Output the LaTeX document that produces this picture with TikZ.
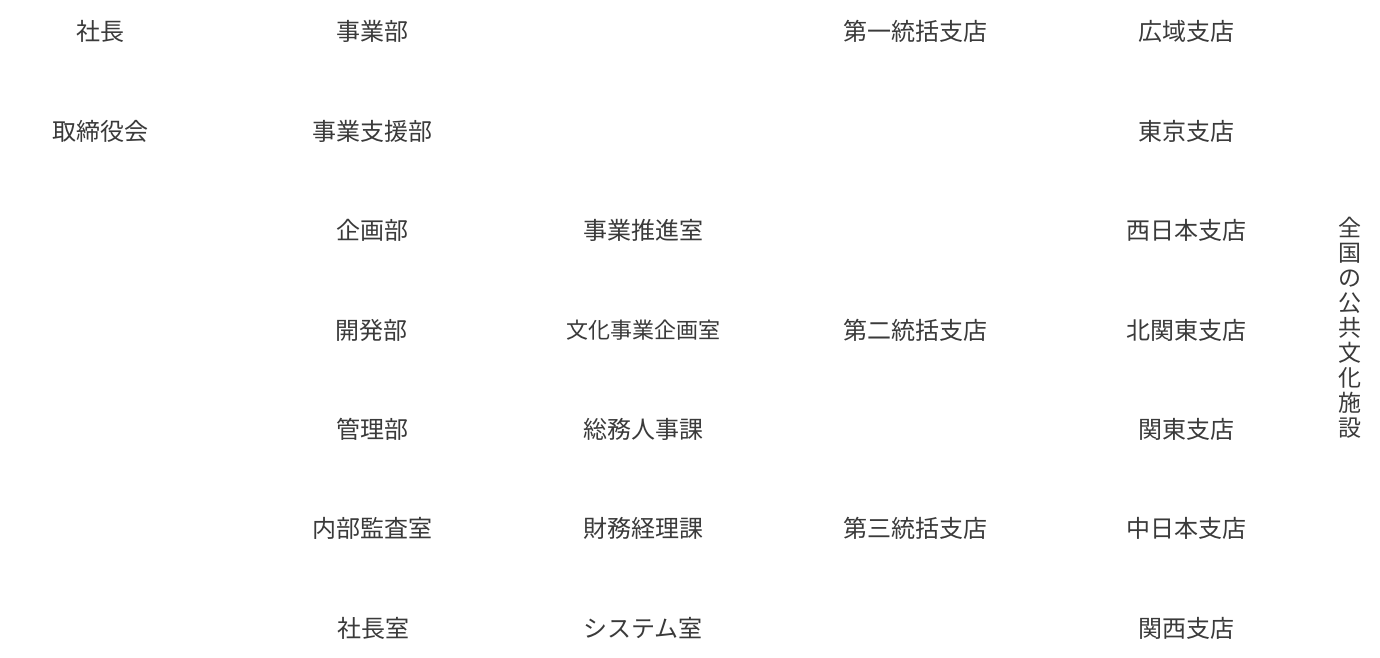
\documentclass[tikz,border=0pt]{standalone}
\usepackage{fontspec}
\setmainfont{Noto Sans CJK JP}
\definecolor{txt}{HTML}{3A3A3A}
\begin{document}
\begin{tikzpicture}[x=1pt,y=-1pt,
  lab/.style={text=txt,font=\fontsize{24}{26}\selectfont,inner sep=0pt,anchor=center},
  labs/.style={lab,font=\fontsize{22}{24}\selectfont}]
\useasboundingbox[fill=white] (0,0) rectangle (1380,657);
% column 1
\node[lab] (shacho) at (100,31) {社長};
\node[lab] (torishimari) at (100,131) {取締役会};
% column 2
\node[lab] (jigyobu) at (372,31) {事業部};
\node[lab] (shienbu) at (372,131) {事業支援部};
\node[lab] (kikakubu) at (372,230) {企画部};
\node[lab] (kaihatsubu) at (371,330) {開発部};
\node[lab] (kanribu) at (372,429) {管理部};
\node[lab] (kansa) at (372,528) {内部監査室};
\node[lab] (shachoshitsu) at (373,628) {社長室};
% column 3
\node[lab] (suishin) at (643,230) {事業推進室};
\node[labs] (bunka) at (643,330) {文化事業企画室};
\node[lab] (somu) at (643,429) {総務人事課};
\node[lab] (zaimu) at (643,528) {財務経理課};
\node[lab] (system) at (643,628) {システム室};
% column 4
\node[lab] (toukatsu1) at (915,31) {第一統括支店};
\node[lab] (toukatsu2) at (915,330) {第二統括支店};
\node[lab] (toukatsu3) at (915,528) {第三統括支店};
% column 5
\node[lab] (koiki) at (1186,31) {広域支店};
\node[lab] (tokyo) at (1186,131) {東京支店};
\node[lab] (nishinihon) at (1186,230) {西日本支店};
\node[lab] (kitakanto) at (1186,330) {北関東支店};
\node[lab] (kanto) at (1186,429) {関東支店};
\node[lab] (nakanihon) at (1186,528) {中日本支店};
\node[lab] (kansai) at (1186,628) {関西支店};
% column 6 vertical
\node[lab,align=center,font=\fontsize{23}{25}\selectfont] (shisetsu) at (1350,328)
  {全\\国\\の\\公\\共\\文\\化\\施\\設};
\end{tikzpicture}
\end{document}
